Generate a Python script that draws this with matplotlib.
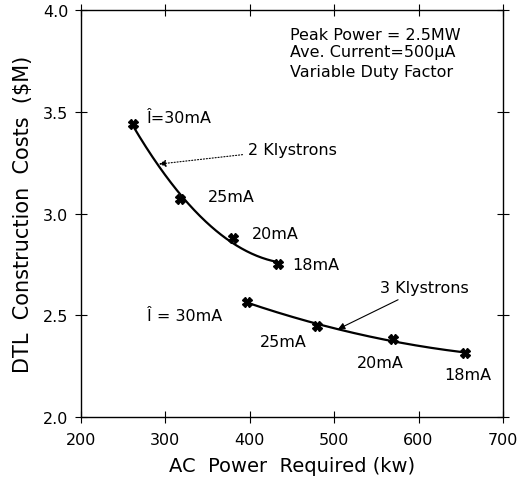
import numpy as np
import matplotlib
matplotlib.use("Agg")
import matplotlib.pyplot as plt

# ---- data ----
currents = ["30", "25", "20", "18"]
power_2k = [261.6, 317.3, 380.1, 433.4]
cost_2k = [3.44, 3.071, 2.880, 2.752]
power_3k = [396.3, 480.2, 570.0, 655.0]
cost_3k = [2.567, 2.447, 2.383, 2.314]

x_ticks = [200, 300, 400, 500, 600, 700]
y_ticks = [2.0, 2.5, 3.0, 3.5, 4.0]

plt.rcParams['font.family'] = ['DejaVu Sans']

fig = plt.figure(figsize=(5.19, 4.89), dpi=100)
ax = fig.add_axes([0.156, 0.145, 0.813, 0.8325])

def smooth(xs, ys):
    c = np.polyfit(xs, ys, 2)
    xx = np.linspace(xs[0], xs[-1], 200)
    return xx, np.polyval(c, xx)

for xs, ys in [(power_2k, cost_2k), (power_3k, cost_3k)]:
    xx, yy = smooth(xs, ys)
    ax.plot(xx, yy, color='black', lw=1.6)
    ax.plot(xs, ys, linestyle='none', marker='X', color='black', markersize=7)

fs = 11.5
# current labels, 2 klystrons
ax.text(278, 3.474, "Î=30mA", fontsize=fs, va='center', ha='left')
ax.text(350.5, 3.086, "25mA", fontsize=fs, va='center', ha='left')
ax.text(402, 2.90, "20mA", fontsize=fs, va='center', ha='left')
ax.text(450, 2.752, "18mA", fontsize=fs, va='center', ha='left')
# current labels, 3 klystrons
ax.text(278, 2.50, "Î = 30mA", fontsize=fs, va='center', ha='left')
ax.text(412, 2.373, "25mA", fontsize=fs, va='center', ha='left')
ax.text(527, 2.27, "20mA", fontsize=fs, va='center', ha='left')
ax.text(631, 2.21, "18mA", fontsize=fs, va='center', ha='left')

# klystron annotations
ax.annotate("2 Klystrons", xy=(292.4, 3.243), xytext=(398, 3.317),
            fontsize=fs, va='center', ha='left',
            arrowprops=dict(arrowstyle='-|>', linestyle=':', lw=0.8,
                            color='black', shrinkA=2, shrinkB=0,
                            mutation_scale=10))
ax.annotate("3 Klystrons", xy=(504.5, 2.432), xytext=(554, 2.639),
            fontsize=fs, va='center', ha='left',
            arrowprops=dict(arrowstyle='-|>', lw=0.8, color='black',
                            shrinkA=4, shrinkB=0, mutation_scale=10))

ax.text(447.6, 3.882, "Peak Power = 2.5MW", fontsize=fs, va='center', ha='left')
ax.text(447.6, 3.797, "Ave. Current=500μA", fontsize=fs, va='center', ha='left')
ax.text(447.6, 3.700, "Variable Duty Factor", fontsize=fs, va='center', ha='left')

ax.set_xlim(200, 700)
ax.set_ylim(2.0, 4.0)
ax.set_xticks(x_ticks)
ax.set_yticks(y_ticks)
ax.set_xticklabels([str(v) for v in x_ticks])
ax.set_yticklabels([f"{v:.1f}" for v in y_ticks])
ax.tick_params(direction='inout', length=8, width=0.8, top=True, right=True,
               labelsize=11.5, pad=5)
ax.tick_params(axis='x', pad=7)

for s in ax.spines.values():
    s.set_linewidth(1.0)
    s.set_color('black')

ax.set_xlabel("AC  Power  Required (kw)", fontsize=14, labelpad=6)
ax.set_ylabel("DTL  Construction  Costs  ($M)", fontsize=15, labelpad=7)

fig.savefig("out.png", dpi=100)
